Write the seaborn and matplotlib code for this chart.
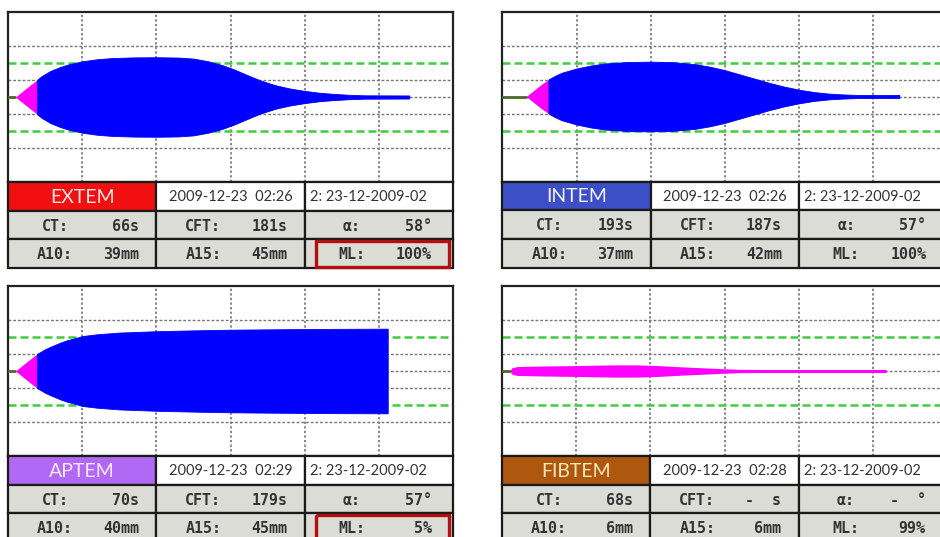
import numpy as np
import pandas as pd
import matplotlib
matplotlib.use("Agg")
import matplotlib.pyplot as plt
from matplotlib.patches import Rectangle
import seaborn as sns

sns.set_style("white")

# ---------------- data ----------------
tests = ["EXTEM", "INTEM", "APTEM", "FIBTEM"]
header_colors = ["#f20f0f", "#3d4fc7", "#b169f5", "#ae570f"]
header_text_colors = ["#ffe4e4", "#f2f2ff", "#fbeaff", "#ffe9b8"]
dates = ["2009-12-23  02:26", "2009-12-23  02:26", "2009-12-23  02:29", "2009-12-23  02:28"]
sample_ids = ["2: 23-12-2009-02", "2: 23-12-2009-02", "2: 23-12-2009-02", "2: 23-12-2009-02"]
ct_vals = ["66s", "193s", "70s", "68s"]
cft_vals = ["181s", "187s", "179s", "-  s"]
alpha_vals = ["58°", "57°", "57°", "-  °"]
a10_vals = ["39mm", "37mm", "40mm", "6mm"]
a15_vals = ["45mm", "42mm", "45mm", "6mm"]
ml_vals = ["100%", "100%", "5%", "99%"]
ml_flagged = [True, False, True, False]

# clotting time (min) - baseline before clot
ct_min = [1.0, 3.2, 1.0, 1.08]

# magenta (CT -> CFT) phase: time (min), half amplitude (mm)
extem_mag_t = [1.0, 2.0, 3.0, 3.9]
extem_mag_a = [0.0, 3.5, 7.0, 10.0]
extem_blue_t = [3.9, 4.5, 5.7, 7.0, 8.0, 10.0, 12.0, 14.0, 17.0, 20.0, 23.0, 25.0, 27.0,
                29.0, 30.5, 32.0, 34.0, 36.0, 38.0, 40.0, 42.0, 44.0, 46.0, 48.0, 54.1]
extem_blue_a = [10.0, 12.2, 15.3, 17.6, 19.0, 21.0, 22.2, 22.9, 23.3, 23.4, 23.2, 22.6, 21.0,
                18.6, 16.2, 13.4, 9.8, 7.0, 5.0, 3.6, 2.5, 1.8, 1.3, 1.0, 0.9]

intem_mag_t = [3.2, 4.2, 5.2, 6.2]
intem_mag_a = [0.0, 3.5, 7.0, 10.0]
intem_blue_t = [6.2, 7.0, 8.0, 10.0, 12.0, 14.0, 17.0, 20.0, 23.0, 26.0, 28.0, 30.0, 32.0,
                34.0, 36.0, 38.0, 40.0, 42.0, 44.0, 46.0, 48.0, 53.5]
intem_blue_a = [10.0, 12.0, 14.0, 16.5, 18.3, 19.5, 20.3, 20.5, 20.2, 19.0, 17.5, 15.5, 13.0,
                10.5, 8.0, 5.8, 4.0, 2.6, 1.7, 1.2, 0.9, 0.9]

aptem_mag_t = [1.0, 2.0, 3.0, 3.9]
aptem_mag_a = [0.0, 3.5, 7.0, 10.0]
aptem_blue_t = [3.9, 5.0, 5.7, 7.0, 7.9, 10.1, 12.0, 15.0, 20.0, 25.0, 30.0, 35.0, 40.0, 45.0, 51.2]
aptem_blue_a = [10.0, 12.8, 14.2, 16.6, 18.0, 20.6, 21.6, 22.6, 23.4, 23.9, 24.3, 24.5, 24.7, 24.8, 24.9]

fibtem_mag_t = [1.08, 1.3, 2.0, 5.0, 10.0, 15.0, 18.0, 21.0, 24.0, 27.0, 30.0, 32.0, 35.0, 51.8]
fibtem_mag_a = [0.0, 1.8, 2.6, 2.9, 3.2, 3.6, 3.6, 3.2, 2.5, 1.9, 1.3, 1.0, 0.9, 0.9]
fibtem_blue_t = []
fibtem_blue_a = []

mag_t = [extem_mag_t, intem_mag_t, aptem_mag_t, fibtem_mag_t]
mag_a = [extem_mag_a, intem_mag_a, aptem_mag_a, fibtem_mag_a]
blue_t = [extem_blue_t, intem_blue_t, aptem_blue_t, fibtem_blue_t]
blue_a = [extem_blue_a, intem_blue_a, aptem_blue_a, fibtem_blue_a]

# ---------------- layout ----------------
W, H = 940, 537
fig = plt.figure(figsize=(W / 100, H / 100), dpi=100)
fig.patch.set_facecolor("white")

panel_origin = [(8, 12), (502.5, 11.5), (8, 286), (502, 286)]
PW, PH = 445, 170
RH = 28.7


def px_axes(x, y, w, h):
    return fig.add_axes([x / W, 1 - (y + h) / H, w / W, h / H])


mono = "DejaVu Sans Mono"
head_font = ["Lato", "DejaVu Sans"]

for i, name in enumerate(tests):
    x0, y0 = panel_origin[i]
    ax = px_axes(x0, y0, PW, PH)
    ax.set_xlim(0, 60)
    ax.set_ylim(-50, 50)
    ax.set_xticks([])
    ax.set_yticks([])
    for s in ax.spines.values():
        s.set_color("#222222")
        s.set_linewidth(1.6)
    ax.set_facecolor("white")

    # grid
    for gx in [10, 20, 30, 40, 50]:
        ax.axvline(gx, color="#666666", lw=1.1, ls=(0, (1.5, 1.5)), zorder=1)
    for gy in [-30, -10, 0, 10, 30]:
        ax.axhline(gy, color="#777777", lw=1.0, ls=(0, (2.0, 1.4)), zorder=1)
    for gy in [-20, 20]:
        ax.axhline(gy, color="#3fcc3f", lw=1.8, ls=(0, (3.2, 1.6)), zorder=1)

    # baseline before clotting
    base = pd.DataFrame({"t": [0, ct_min[i]], "a": [0, 0]})
    sns.lineplot(data=base, x="t", y="a", ax=ax, color="#4a6b2a", lw=2, zorder=3)

    # magenta phase
    mt = np.array(mag_t[i]); ma = np.array(mag_a[i])
    ax.fill_between(mt, -ma, ma, color="#ff00ff", lw=0, zorder=4)
    # blue phase
    if len(blue_t[i]):
        bt = np.array(blue_t[i]); ba = np.array(blue_a[i])
        ax.fill_between(bt, -ba, ba, color="#0000ff", lw=0.6, edgecolor="#0000ff", zorder=4)
    ax.set_xlabel(""); ax.set_ylabel("")
    if ax.get_legend():
        ax.get_legend().remove()

    # table
    tax = px_axes(x0, y0 + PH, PW, 3 * RH)
    tax.set_xlim(0, PW)
    tax.set_ylim(3 * RH, 0)
    tax.axis("off")
    cw = PW / 3
    for r in range(3):
        for c in range(3):
            if r == 0:
                fc = header_colors[i] if c == 0 else "white"
            else:
                fc = "#dcdcd6"
            tax.add_patch(Rectangle((c * cw, r * RH), cw, RH, facecolor=fc,
                                    edgecolor="#1a1a1a", lw=1.6, clip_on=False))
    ymid = lambda r: r * RH + RH / 2
    tax.text(cw / 2, ymid(0) + 1, name, ha="center", va="center", fontsize=14,
             color=header_text_colors[i], family=head_font)
    tax.text(cw * 1.5, ymid(0) + 1, dates[i], ha="center", va="center", fontsize=10.5,
             color="#333333", family=head_font)
    tax.text(cw * 2 + 5, ymid(0) + 1, sample_ids[i], ha="left", va="center", fontsize=10.5,
             color="#333333", family=head_font)

    labels = [["CT:", "CFT:", "α:"], ["A10:", "A15:", "ML:"]]
    values = [[ct_vals[i], cft_vals[i], alpha_vals[i]],
              [a10_vals[i], a15_vals[i], ml_vals[i]]]
    for r in range(2):
        for c in range(3):
            tax.text(c * cw + 47, ymid(r + 1) + 1, labels[r][c], ha="center", va="center",
                     fontsize=10.8, fontweight="bold", color="#333333", family=mono)
            vx = c * cw + (131 if c < 2 else 127)
            tax.text(vx, ymid(r + 1) + 1, values[r][c], ha="right", va="center",
                     fontsize=10.8, fontweight="bold", color="#333333", family=mono)
    if ml_flagged[i]:
        tax.add_patch(Rectangle((2 * cw + 11, 2 * RH + 1.5), cw - 15, RH - 3, facecolor="none",
                                edgecolor="#b01010", lw=2.4, clip_on=False, zorder=5))

fig.savefig("out.png", dpi=100, facecolor="white")
